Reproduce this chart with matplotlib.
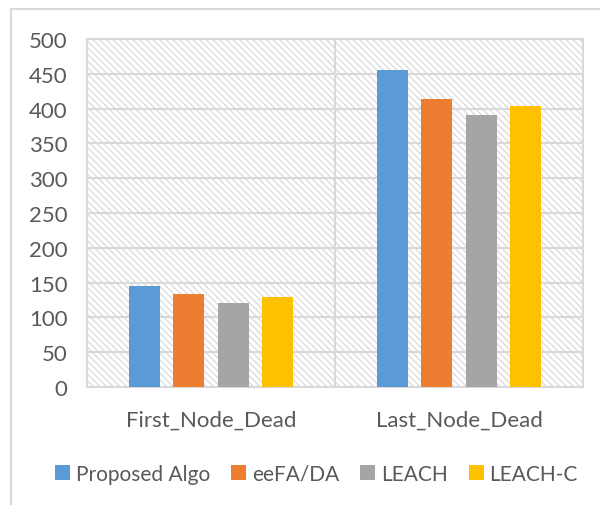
import matplotlib
matplotlib.use("Agg")
import matplotlib.pyplot as plt
import numpy as np
from matplotlib.patches import Rectangle

categories = ["First_Node_Dead", "Last_Node_Dead"]
series_names = ["Proposed Algo", "eeFA/DA", "LEACH", "LEACH-C"]
proposed = [145, 456]
eefa = [133, 414]
leach = [120, 391]
leach_c = [129, 404]
colors = ["#5b9bd5", "#ed7d31", "#a5a5a5", "#ffc000"]
yticks = [0, 50, 100, 150, 200, 250, 300, 350, 400, 450, 500]

plt.rcParams['font.family'] = ['Lato', 'DejaVu Sans']
plt.rcParams['hatch.linewidth'] = 1.0
W, H = 600, 506
fig = plt.figure(figsize=(W / 100, H / 100), dpi=100)

# outer chart frame (left & top visible)
fig.add_artist(plt.Line2D([11 / W, 11 / W], [0, 1 - 10 / H], color="#d9d9d9", lw=1.5))
fig.add_artist(plt.Line2D([11 / W, 1], [1 - 10 / H, 1 - 10 / H], color="#d9d9d9", lw=1.5))

left, right, top, bottom = 87, 583, 40, 388
ax = fig.add_axes([left / W, 1 - bottom / H, (right - left) / W, (bottom - top) / H])

# hatched background
bg = Rectangle((0, 0), 1, 1, transform=ax.transAxes, facecolor="white",
               edgecolor="#dcdcdc", hatch="\\\\\\\\\\", lw=0, zorder=0)
ax.add_patch(bg)

series = [proposed, eefa, leach, leach_c]
x = np.arange(len(categories))
pitch = 0.18
bw = 0.125
for i, (vals, name, c) in enumerate(zip(series, series_names, colors)):
    ax.bar(x + (i - 1.5) * pitch, vals, width=bw, color=c, label=name, zorder=3)

ax.set_xlim(-0.5, 1.5)
ax.set_ylim(0, 500)
ax.set_yticks(yticks)
ax.set_xticks(x)
ax.set_xticklabels(categories)
ax.grid(axis="y", color="#d9d9d9", lw=1.5, zorder=1)
ax.axvline(0.5, color="#d9d9d9", lw=1.5, zorder=1)
for s in ["left", "right", "top", "bottom"]:
    ax.spines[s].set_color("#d9d9d9")
    ax.spines[s].set_linewidth(1.5)
ax.tick_params(axis="both", length=0, colors="#595959", labelsize=16)
ax.tick_params(axis="y", pad=14)
ax.tick_params(axis="x", pad=16)
ax.set_axisbelow(True)

leg = ax.legend(loc="center", bbox_to_anchor=(0.463, -0.25), ncol=4, frameon=False,
                fontsize=15, handlelength=0.72, handleheight=0.72, handletextpad=0.28,
                columnspacing=1.0, labelcolor="#595959")

fig.savefig("out.png", dpi=100)
